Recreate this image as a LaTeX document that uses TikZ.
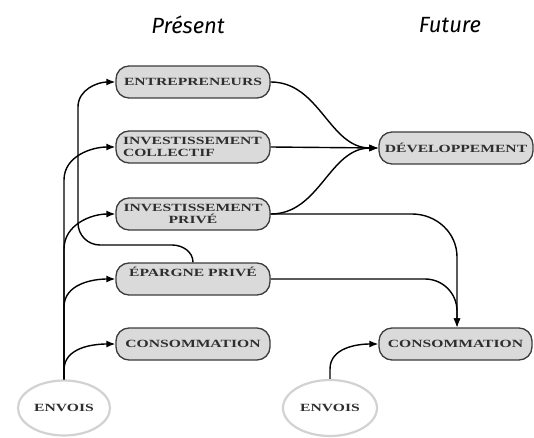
\documentclass[tikz,border=0pt]{standalone}
\usepackage{fontspec}
\setmainfont{Liberation Serif}
\newfontfamily\boxfont{Liberation Serif}[FakeStretch=1.42]
\newfontfamily\titlefont{Fira Sans}
\usetikzlibrary{arrows.meta,shapes.geometric}
\definecolor{boxfill}{HTML}{DADADA}
\definecolor{boxline}{HTML}{3C3C3C}
\definecolor{ellline}{HTML}{D2D2D2}
\definecolor{boxtext}{HTML}{2E2E2E}
\tikzset{
  box/.style={draw=boxline, fill=boxfill, line width=1.3pt, rounded corners=13pt,
    minimum width=154pt, minimum height=32pt, inner sep=0pt, text=boxtext,
    font=\boxfont\bfseries\fontsize{11}{12}\selectfont},
  ell/.style={ellipse, draw=ellline, line width=2.2pt, fill=white,
    minimum width=92pt, minimum height=55pt, inner sep=0pt, text=boxtext,
    font=\boxfont\bfseries\fontsize{11}{12}\selectfont},
  conn/.style={line width=1.4pt, black},
  arr/.style={conn, -{Latex[length=9pt,width=7pt]}},
  ttl/.style={font=\titlefont\itshape\fontsize{22}{24}\selectfont, text=black}
}
\begin{document}
\begin{tikzpicture}[x=1pt,y=1pt]
\useasboundingbox[fill=white] (0,0) rectangle (534,437);
% titles
\node[ttl] (tp) at (188,412) {Présent};
\node[ttl] (tf) at (450,412) {Future};
% present column
\node[box] (E)  at (193,355) {ENTREPRENEURS};
\node[box, text width=140pt, inner xsep=7pt, align=left] (IC) at (193,290) {INVESTISSEMENT\\COLLECTIF};
\node[box, align=center] (IP) at (193,223) {INVESTISSEMENT\\PRIVÉ};
\node[box] (EP) at (193,158) {\raisebox{7pt}[\height][\depth]{ÉPARGNE PRIVÉ}};
\node[box] (C1) at (193,93)  {CONSOMMATION};
% future column
\node[box] (D)  at (456,289) {DÉVELOPPEMENT};
\node[box, minimum width=153pt] (C2) at (455.5,93) {CONSOMMATION};
% envois
\node[ell] (V1) at (64,29) {ENVOIS};
\node[ell, minimum width=94pt, minimum height=56pt] (V2) at (330,29) {ENVOIS};
\coordinate (cx) at (457,0);
% envois branches
\draw[arr] (V1.north) -- (64,257) to[out=90,in=180] (IC.west);
\draw[arr] (V1.north) -- (64,188) to[out=90,in=180] (IP.west);
\draw[arr] (V1.north) -- (64,130) to[out=90,in=180] (EP.west);
\draw[arr] (V1.north) -- (64,67)  to[out=90,in=180] (C1.west);
\draw[arr] (V2.north) -- (330,68) to[out=90,in=180] (C2.west);
% epargne -> entrepreneurs
\draw[arr] (EP.north) to[out=90,in=0] (172,192) -- (100,192)
  to[out=180,in=-90] (78,214) -- (78,330) to[out=90,in=180] (E.west);
% to developpement
\draw[arr] (E.east) to[out=0,in=180] (D.west);
\draw[arr] (IC.east) -- (D.west);
\draw[arr] (IP.east) to[out=0,in=180] (D.west);
% to future consommation
\draw[arr] (EP.east) -- (425,158) to[out=0,in=90] (457,126) -- (C2.north -| cx);
\draw[arr] (IP.east) -- (412,223) to[out=0,in=90] (457,180) -- (C2.north -| cx);
\end{tikzpicture}
\end{document}
